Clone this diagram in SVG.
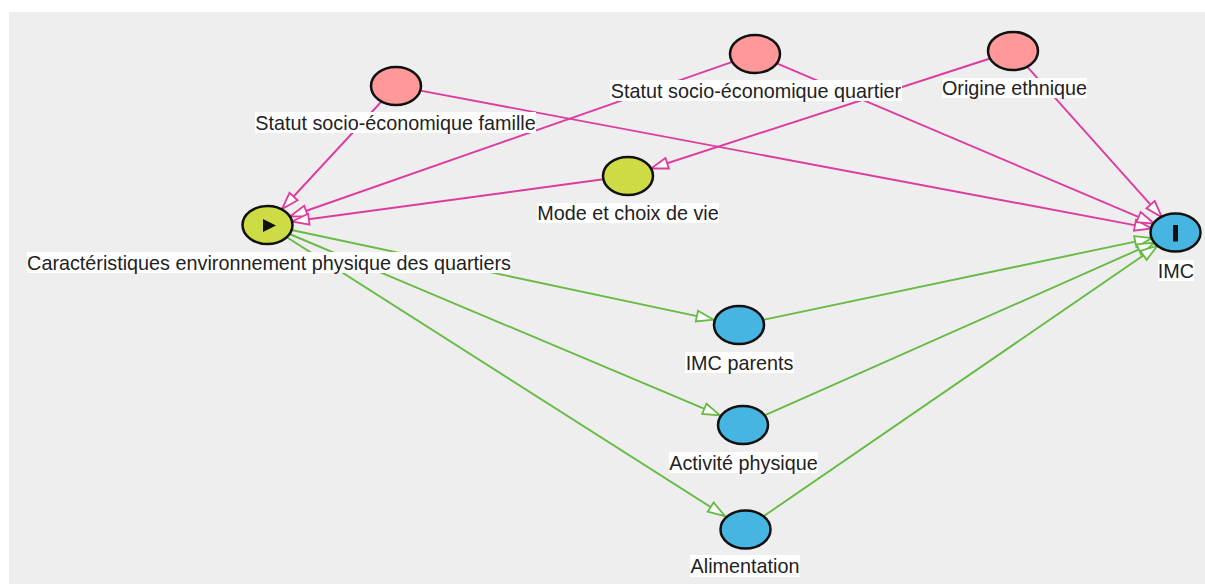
<svg xmlns="http://www.w3.org/2000/svg" width="1205" height="584" viewBox="0 0 1205 584">
<defs>
<style>
.bg{fill:#eeeeee}
.node{stroke:#111;stroke-width:2.5}
.exp{fill:#ff9999}
.mid{fill:#cddb45}
.out{fill:#46b5e1}
.lblbg{fill:#ffffff}
.lbl{font-family:"Liberation Sans",Arial,sans-serif;font-size:19.8px;fill:#222;text-anchor:middle}
.pink{stroke:#dd3c9f;stroke-width:1.9;fill:none;marker-end:url(#ahPink)}
.green{stroke:#67bb45;stroke-width:1.9;fill:none;marker-end:url(#ahGreen)}
</style>
<marker id="ahPink" markerUnits="userSpaceOnUse" markerWidth="22" markerHeight="15" refX="17" refY="5.5" orient="auto" viewBox="-1.5 -1.5 22 15">
<path d="M0,0 L17,5.5 L0,11 Z" fill="#ffffff" stroke="#dd3c9f" stroke-width="1.8"/>
</marker>
<marker id="ahGreen" markerUnits="userSpaceOnUse" markerWidth="22" markerHeight="15" refX="17" refY="5.5" orient="auto" viewBox="-1.5 -1.5 22 15">
<path d="M0,0 L17,5.5 L0,11 Z" fill="#ffffff" stroke="#67bb45" stroke-width="1.8"/>
</marker>
</defs>
<rect class="bg" x="9" y="12" width="1196" height="572"/>
<g id="connectors">
<line class="pink" x1="381.5" y1="101.5" x2="282" y2="209"/>
<line class="pink" x1="420.3" y1="90.6" x2="1151.7" y2="228.4"/>
<line class="pink" x1="732.3" y1="61.9" x2="290" y2="216.5"/>
<line class="pink" x1="776.8" y1="63.3" x2="1154.2" y2="223.7"/>
<line class="pink" x1="990" y1="58.5" x2="651" y2="168.5"/>
<line class="pink" x1="1027.1" y1="66.7" x2="1161.9" y2="217.3"/>
<line class="pink" x1="603.4" y1="179.3" x2="292" y2="221.5"/>
<line class="green" x1="291.5" y1="230" x2="713.5" y2="319.6"/>
<line class="green" x1="289.5" y1="234" x2="720" y2="415.4"/>
<line class="green" x1="286.5" y1="237" x2="725" y2="516.2"/>
<line class="green" x1="763.1" y1="319.9" x2="1151.9" y2="238.1"/>
<line class="green" x1="764.6" y1="415.4" x2="1154.4" y2="242.6"/>
<line class="green" x1="763.5" y1="516.3" x2="1157.5" y2="245.7"/>
</g>
<g id="node-famille">
<ellipse class="node exp" cx="396" cy="86" rx="25" ry="19"/>
<rect class="lblbg" x="255" y="112" width="281" height="21"/>
<text class="lbl" x="395.5" y="129.5">Statut socio-économique famille</text>
</g>
<g id="node-quartier">
<ellipse class="node exp" cx="755" cy="54" rx="25" ry="19"/>
<rect class="lblbg" x="610" y="80" width="292" height="21"/>
<text class="lbl" x="756" y="97.5">Statut socio-économique quartier</text>
</g>
<g id="node-origine">
<ellipse class="node exp" cx="1013" cy="51" rx="25" ry="19"/>
<rect class="lblbg" x="942" y="78" width="145" height="20"/>
<text class="lbl" x="1014.5" y="95">Origine ethnique</text>
</g>
<g id="node-mode">
<ellipse class="node mid" cx="628" cy="176" rx="25" ry="19"/>
<rect class="lblbg" x="537" y="203" width="182" height="20"/>
<text class="lbl" x="628" y="220">Mode et choix de vie</text>
</g>
<g id="node-caracteristiques">
<ellipse class="node mid" cx="267.5" cy="225" rx="25" ry="19"/>
<path d="M263,219 L263,232 L276,225.5 Z" fill="#111"/>
<rect class="lblbg" x="27" y="252" width="484" height="21"/>
<text class="lbl" x="269" y="269.5">Caractéristiques environnement physique des quartiers</text>
</g>
<g id="node-imc">
<ellipse class="node out" cx="1175.5" cy="232.5" rx="25" ry="19"/>
<rect x="1173" y="225" width="5" height="16.5" fill="#111"/>
<rect class="lblbg" x="1158" y="260" width="36" height="21"/>
<text class="lbl" x="1176" y="277.5">IMC</text>
</g>
<g id="node-imc-parents">
<ellipse class="node out" cx="739" cy="325" rx="25" ry="19"/>
<rect class="lblbg" x="685" y="352" width="109" height="21"/>
<text class="lbl" x="739.5" y="369.5">IMC parents</text>
</g>
<g id="node-activite">
<ellipse class="node out" cx="743" cy="425" rx="25" ry="19"/>
<rect class="lblbg" x="669" y="452" width="149" height="21"/>
<text class="lbl" x="743.5" y="469.5">Activité physique</text>
</g>
<g id="node-alimentation">
<ellipse class="node out" cx="745.5" cy="529.5" rx="25" ry="19"/>
<rect class="lblbg" x="690" y="555" width="110" height="22"/>
<text class="lbl" x="745" y="572.5">Alimentation</text>
</g>
</svg>
